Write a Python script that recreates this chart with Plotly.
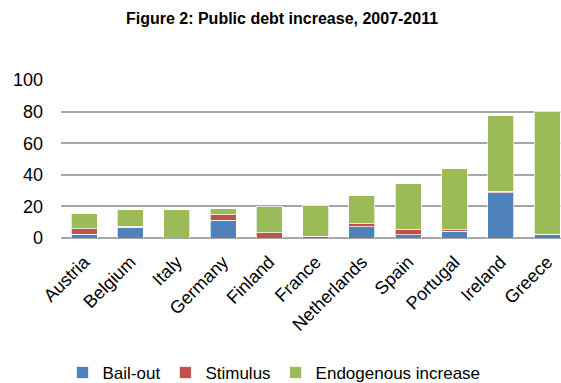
import plotly.graph_objects as go

countries = ["Austria", "Belgium", "Italy", "Germany", "Finland", "France",
             "Netherlands", "Spain", "Portugal", "Ireland", "Greece"]
bailout = [2.5, 6.8, 0.0, 11.2, 0.0, 0.0, 7.2, 2.1, 4.2, 28.5, 2.3]
stimulus = [3.4, 0.6, 0.0, 3.4, 3.2, 1.0, 1.9, 3.0, 0.9, 1.1, 0.0]
endogenous = [9.5, 10.5, 17.9, 4.0, 16.6, 19.7, 17.5, 29.1, 38.6, 47.8, 77.7]
y_ticks = [0, 20, 40, 60, 80, 100]

FONT = "Liberation Sans"
edge = dict(color="rgba(255,255,255,0.7)", width=1)

fig = go.Figure()
fig.add_trace(go.Bar(name="Bail-out", x=countries, y=bailout,
                     marker=dict(color="#4F81BD", line=edge), width=0.56))
fig.add_trace(go.Bar(name="Stimulus", x=countries, y=stimulus,
                     marker=dict(color="#C0504D", line=edge), width=0.56))
fig.add_trace(go.Bar(name="Endogenous increase", x=countries, y=endogenous,
                     marker=dict(color="#9BBB59", line=edge), width=0.56))

fig.update_layout(
    barmode="stack",
    width=561, height=383,
    margin=dict(l=61, r=0, t=80, b=145),
    paper_bgcolor="white", plot_bgcolor="white",
    font=dict(family=FONT, color="black"),
    title=dict(text="<b>Figure 2: Public debt increase, 2007-2011</b>",
               font=dict(family=FONT, size=16, color="black"),
               x=282 / 561, xanchor="center", xref="container",
               y=1 - 18 / 383, yanchor="middle", yref="container"),
    xaxis=dict(range=[-0.5, 10.3], tickangle=-45, tickfont=dict(size=18),
               showgrid=False, showline=False, ticks="", ticklabelstandoff=9,
               automargin=False),
    yaxis=dict(range=[0, 100], tickvals=y_ticks, tickfont=dict(size=18),
               showgrid=True, gridcolor="#A6A6A6", gridwidth=2,
               zeroline=True, zerolinecolor="#A6A6A6", zerolinewidth=2,
               showline=False, ticks="", ticklabelstandoff=17,
               automargin=False),
    legend=dict(orientation="h", xref="container", yref="container",
                x=274 / 561, xanchor="center", y=1 - 373 / 383, yanchor="middle",
                font=dict(size=17), itemwidth=30, traceorder="normal"),
    showlegend=True,
)

fig.write_html("out.html", config={"displayModeBar": False},
               post_script="document.body.style.margin='0';")
